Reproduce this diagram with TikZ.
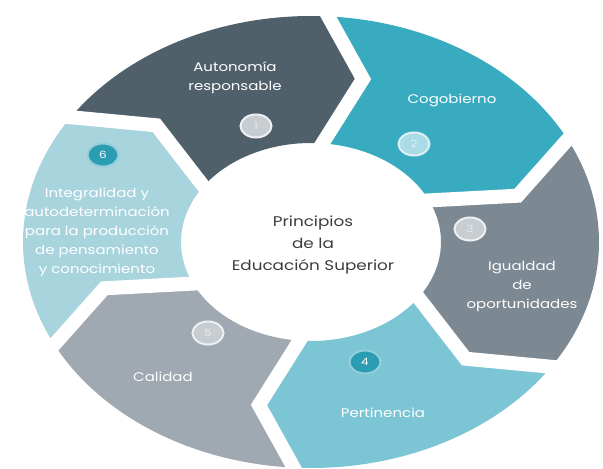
\documentclass[tikz,border=0pt]{standalone}
\usepackage{fontspec}
\setmainfont{Poppins}[FakeStretch=1.2]
\usetikzlibrary{shapes.geometric}

\definecolor{pizarra}{RGB}{80,96,106}
\definecolor{turquesa}{RGB}{57,171,192}
\definecolor{gris}{RGB}{125,137,146}
\definecolor{celeste}{RGB}{123,197,213}
\definecolor{plata}{RGB}{160,168,178}
\definecolor{hielo}{RGB}{168,212,222}
\definecolor{texto}{RGB}{60,60,60}
\definecolor{botongris}{RGB}{200,205,210}
\definecolor{botonazul}{RGB}{42,157,179}
\definecolor{botonclaro}{RGB}{170,219,230}

\begin{document}
\begin{tikzpicture}[x=1pt,y=1pt,
    radext/.style={x radius=288pt,y radius=226pt},
    radint/.style={x radius=130pt,y radius=99pt},
    corte/.style={white,line width=14pt,line join=miter},
    etiqueta/.style={text=white,align=center,font=\fontsize{12.5}{19}\selectfont},
    num/.style={ellipse,inner sep=0pt,minimum width=31pt,minimum height=23pt,
      line width=2pt,font=\fontsize{10}{10}\selectfont}]
  \useasboundingbox (-311,-227) rectangle (292,242);
  % Segmentos del anillo (sentido horario)
  \fill[pizarra] (148:288pt and 226pt) arc[start angle=148,end angle=88,radext]
    -- (76:215pt and 168pt) -- (88:130pt and 99pt) arc[start angle=88,end angle=148,radint]
    -- (136:215pt and 168pt) -- cycle;
  \fill[turquesa] (88:288pt and 226pt) arc[start angle=88,end angle=28,radext]
    -- (16:215pt and 168pt) -- (28:130pt and 99pt) arc[start angle=28,end angle=88,radint]
    -- (76:215pt and 168pt) -- cycle;
  \fill[gris] (28:288pt and 226pt) arc[start angle=28,end angle=-32,radext]
    -- (-44:215pt and 168pt) -- (-32:130pt and 99pt) arc[start angle=-32,end angle=28,radint]
    -- (16:215pt and 168pt) -- cycle;
  \fill[celeste] (-32:288pt and 226pt) arc[start angle=-32,end angle=-92,radext]
    -- (-104:215pt and 168pt) -- (-92:130pt and 99pt) arc[start angle=-92,end angle=-32,radint]
    -- (-44:215pt and 168pt) -- cycle;
  \fill[plata] (-92:288pt and 226pt) arc[start angle=-92,end angle=-152,radext]
    -- (-164:215pt and 168pt) -- (-152:130pt and 99pt) arc[start angle=-152,end angle=-92,radint]
    -- (-104:215pt and 168pt) -- cycle;
  \fill[hielo] (-152:288pt and 226pt) arc[start angle=-152,end angle=-212,radext]
    -- (-224:215pt and 168pt) -- (-212:130pt and 99pt) arc[start angle=-212,end angle=-152,radint]
    -- (-164:215pt and 168pt) -- cycle;
  % Cortes blancos entre segmentos
  \draw[corte] (88:300pt and 238pt) -- (76:215pt and 168pt) -- (88:118pt and 87pt);
  \draw[corte] (28:300pt and 238pt) -- (16:215pt and 168pt) -- (28:118pt and 87pt);
  \draw[corte] (-32:300pt and 238pt) -- (-44:215pt and 168pt) -- (-32:118pt and 87pt);
  \draw[corte] (-92:300pt and 238pt) -- (-104:215pt and 168pt) -- (-92:118pt and 87pt);
  \draw[corte] (-152:300pt and 238pt) -- (-164:215pt and 168pt) -- (-152:118pt and 87pt);
  \draw[corte] (148:300pt and 238pt) -- (136:215pt and 168pt) -- (148:118pt and 87pt);
  % Centro
  \node[text=texto,align=center,font=\fontsize{14}{22}\selectfont] (centro) at (2,-3)
    {Principios\\de la\\Educación Superior};
  % Textos
  \node[etiqueta] (t1) at (-76,164) {Autonomía\\responsable};
  \node[etiqueta] (t2) at (141,142) {Cogobierno};
  \node[etiqueta] (t3) at (211,-44) {Igualdad\\de\\oportunidades};
  \node[etiqueta] (t4) at (72,-171) {Pertinencia};
  \node[etiqueta] (t5) at (-148,-135) {Calidad};
  \node[etiqueta] (t6) at (-214,10) {Integralidad y\\autodeterminación\\para la producción\\de pensamiento\\y conocimiento};
  % Numeros
  \node[num,fill=botongris,draw=white!70!botongris,text=white!60!botongris] (n1) at (-55,116) {1};
  \node[num,fill=botonclaro,draw=white!60!botonclaro,text=white!60!botonclaro] (n2) at (103,98) {2};
  \node[num,fill=botongris,draw=white!70!botongris,text=white!60!botongris] (n3) at (159,13) {3};
  \node[num,fill=botonazul,draw=white!50!botonazul,text=white] (n4) at (54,-120) {4};
  \node[num,fill=botongris,draw=white!70!botongris,text=white!60!botongris] (n5) at (-103,-91) {5};
  \node[num,fill=botonazul,draw=white!50!botonazul,text=white] (n6) at (-208,87) {6};
\end{tikzpicture}
\end{document}
